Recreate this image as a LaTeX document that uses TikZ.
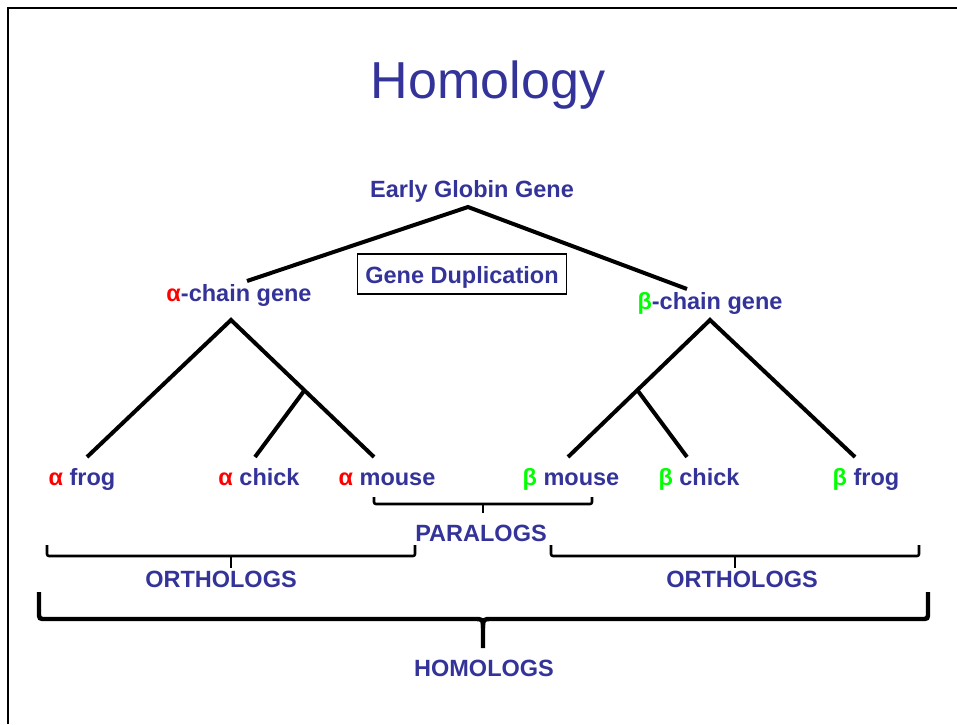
\documentclass[tikz,border=0pt]{standalone}
\usepackage{fontspec}
\setmainfont{Liberation Sans}
\definecolor{txt}{HTML}{333399}
\definecolor{ared}{HTML}{FF0000}
\definecolor{bgreen}{HTML}{00FF00}
\newcommand{\ga}{\textcolor{ared}{α}}
\newcommand{\gb}{\textcolor{bgreen}{β}}
\begin{document}
\begin{tikzpicture}[x=1pt,y=-1pt,
  lbl/.style={font=\fontsize{23.5}{28}\selectfont\bfseries, text=txt, inner sep=0pt, anchor=base},
  branch/.style={line width=4pt},
  bracket/.style={line width=2.6pt, rounded corners=2pt},
  bigbrace/.style={line width=4.4pt}]
\useasboundingbox (0,0) rectangle (957,724);
\draw[line width=2pt] (8,724) -- (8,8) -- (957,8);

% title
\node[font=\fontsize{52}{60}\selectfont, text=txt, inner sep=0pt, anchor=base] (title) at (488,98) {Homology};

% labels
\node[lbl] (root) at (472,197) {Early Globin Gene};
\node[lbl, draw=black, line width=1.5pt, text height=29pt, text depth=11pt, minimum width=209pt, align=center] (dup) at (462,283) {Gene Duplication};
\node[lbl] (achain) at (239,301) {\ga-chain gene};
\node[lbl] (bchain) at (710,309) {\gb-chain gene};

\node[lbl] (afrog) at (82,485) {\ga{} frog};
\node[lbl] (achick) at (259,485) {\ga{} chick};
\node[lbl] (amouse) at (387,485) {\ga{} mouse};
\node[lbl] (bmouse) at (571,485) {\gb{} mouse};
\node[lbl] (bchick) at (699,485) {\gb{} chick};
\node[lbl] (bfrog) at (866,485) {\gb{} frog};

\node[lbl] (para) at (481,541) {PARALOGS};
\node[lbl] (orthoL) at (221,587) {ORTHOLOGS};
\node[lbl] (orthoR) at (742,587) {ORTHOLOGS};
\node[lbl] (homo) at (484,676) {HOMOLOGS};

% tree coordinates
\coordinate (rtop) at (468,207);
\coordinate (aend) at (247,281);
\coordinate (bend) at (687,289);
\coordinate (atop) at (231,320);
\coordinate (btop) at (710,320);
\coordinate (asplit) at (304,391);
\coordinate (bsplit) at (638,391);
\coordinate (afrogT) at (87,457);
\coordinate (achickT) at (255,457);
\coordinate (amouseT) at (374,457);
\coordinate (bmouseT) at (568,457);
\coordinate (bchickT) at (687,457);
\coordinate (bfrogT) at (855,457);

\draw[branch] (aend) -- (rtop) -- (bend);
\draw[branch] (afrogT) -- (atop) -- (amouseT);
\draw[branch] (asplit) -- (achickT);
\draw[branch] (bmouseT) -- (btop) -- (bfrogT);
\draw[branch] (bsplit) -- (bchickT);

% paralogs bracket
\coordinate (pL) at (374,497);
\coordinate (pR) at (592,497);
\coordinate (pM) at (483,513);
\draw[bracket] (pL) -- (374,504) -- (592,504) -- (pR);
\draw[line width=2.6pt] (483,504) -- (pM);

% orthologs brackets
\coordinate (oLa) at (47,545);
\coordinate (oLb) at (415,545);
\draw[bracket] (oLa) -- (47,556) -- (415,556) -- (oLb);
\draw[line width=2.6pt] (231,556) -- (231,568);
\coordinate (oRa) at (551,545);
\coordinate (oRb) at (919,545);
\draw[bracket] (oRa) -- (551,556) -- (919,556) -- (oRb);
\draw[line width=2.6pt] (735,556) -- (735,568);

% homologs brace
\coordinate (hL) at (39,592);
\coordinate (hR) at (928,592);
\coordinate (hM) at (483,648);
\draw[bigbrace] (hL) -- (39,612) .. controls (39,619) .. (46,619) -- (474,619) .. controls (483,619) .. (483,628) -- (hM);
\draw[bigbrace] (hR) -- (928,612) .. controls (928,619) .. (921,619) -- (492,619) .. controls (483,619) .. (483,628);
\end{tikzpicture}
\end{document}
